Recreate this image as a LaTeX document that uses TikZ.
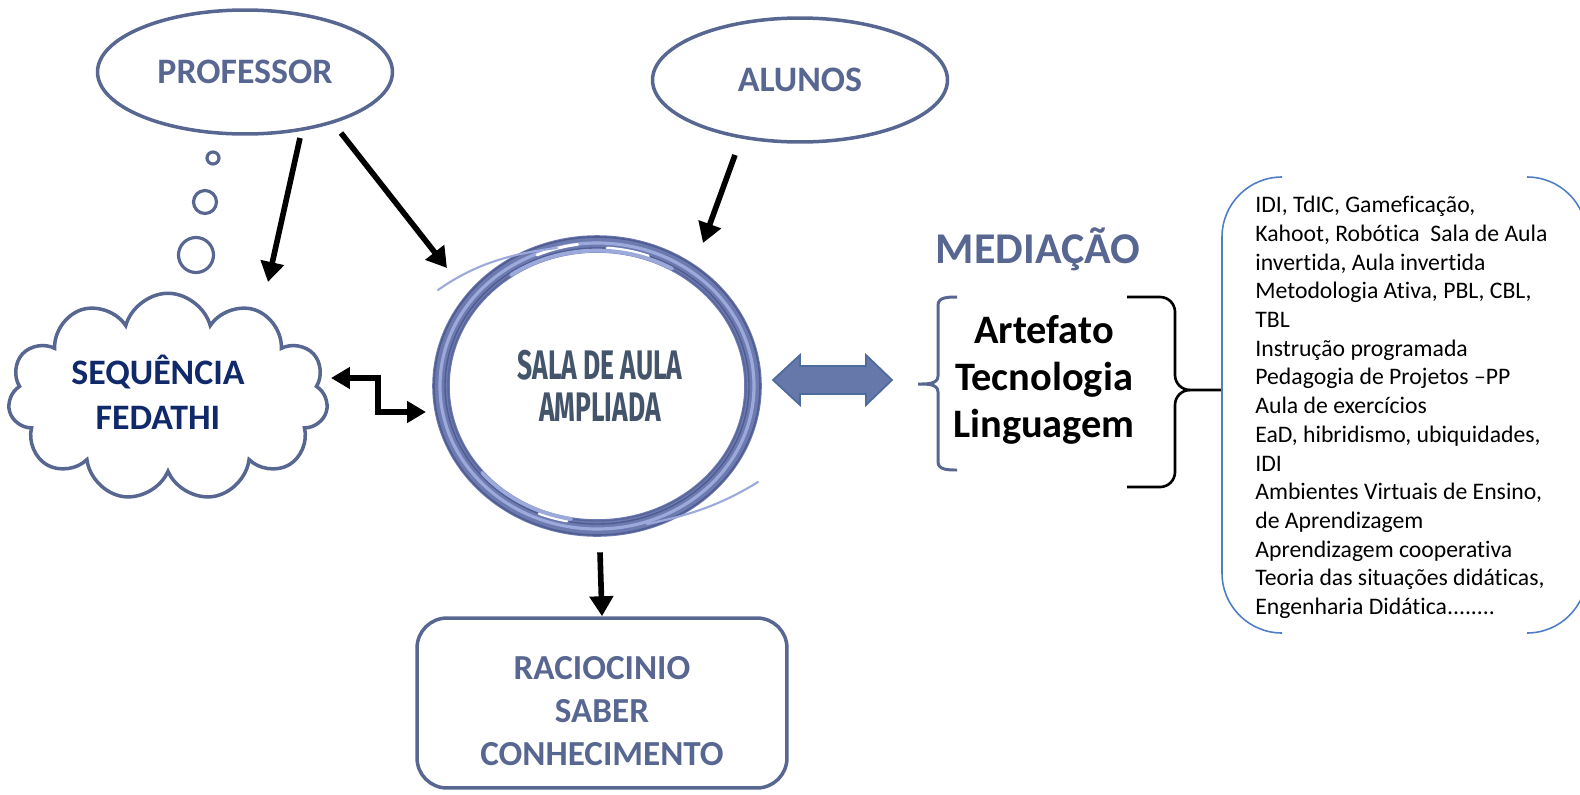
\documentclass[tikz,border=0pt]{standalone}
\usepackage{fontspec}
\setmainfont{Carlito}[Ligatures=NoCommon]
\newfontfamily\condfont[FakeStretch=0.64]{Fira Sans}
\usetikzlibrary{shapes.geometric,shapes.symbols,arrows.meta,calc}
\definecolor{slate}{HTML}{586791}
\definecolor{navy}{HTML}{10296A}
\definecolor{darkslate}{HTML}{44546A}
\definecolor{ring}{HTML}{6C7AB0}
\definecolor{ringlight}{HTML}{9CAADB}
\definecolor{ringdark}{HTML}{4E5C92}
\definecolor{boxblue}{HTML}{4F7EC5}
\definecolor{dafill}{HTML}{6578A9}
\definecolor{daborder}{HTML}{4D6B9C}
\begin{document}
\begin{tikzpicture}[x=0.02cm,y=-0.02cm,
  ell/.style={ellipse, draw=slate, line width=2pt, inner sep=0, text=slate,
    font=\fontsize{20.4}{24}\selectfont\bfseries},
  bub/.style={circle, draw=slate, line width=1.8pt, inner sep=0},
  arr/.style={line width=3.2pt, -{Triangle[width=0.46cm,length=0.4cm]}},
  darr/.style={line width=3.2pt, {Triangle[width=0.42cm,length=0.38cm]}-{Triangle[width=0.42cm,length=0.38cm]}},
  swoosh/.style={draw=ringlight, line width=2.2pt, line cap=round},
  lbl/.style={inner sep=0, align=center}
]
\useasboundingbox (0,0) rectangle (1580,795);
\clip (0,0) rectangle (1580,795);

% top ellipses
\node[ell, minimum width=5.9cm, minimum height=2.48cm] (prof) at (245,72) {PROFESSOR};
\node[ell, minimum width=5.9cm, minimum height=2.48cm] (alu) at (800,80) {ALUNOS};

% thought bubbles
\node[bub, minimum size=0.24cm] (b1) at (213,158) {};
\node[bub, minimum size=0.46cm] (b2) at (205,202) {};
\node[bub, minimum size=0.70cm] (b3) at (196,255) {};

% cloud
\node[cloud, cloud puffs=11, aspect=1.56, draw=slate, line width=2pt, inner sep=0,
  minimum width=6.4cm, minimum height=4.15cm] (seq) at (168,397) {};
\node[lbl, text=navy, font=\fontsize{20.4}{25.5}\selectfont\bfseries] (seqt) at (158,392) {SEQUÊNCIA\\FEDATHI};

% central ring
\node[ellipse, minimum width=6.6cm, minimum height=6.04cm, inner sep=0] (sala) at (597,386) {};
\draw[ring, line width=10pt] (sala.center) ellipse[x radius=156, y radius=142];
\draw[ringdark, line width=0.9pt] (sala.center) ellipse[x radius=163, y radius=149];
\draw[ringlight, line width=1.8pt] (sala.center) ellipse[x radius=157, y radius=143];
\draw[ringdark, line width=0.8pt] (sala.center) ellipse[x radius=152, y radius=138];
\draw[ringdark!70!ring, line width=0.8pt] (sala.center) ellipse[x radius=149, y radius=135];
\draw[white, line width=1.6pt, line cap=round] ($(sala.center)+(-60,-131)$) arc[start angle=246, end angle=262, x radius=152, y radius=138];
\draw[white, line width=1.6pt, line cap=round] ($(sala.center)+(10,-138)$) arc[start angle=274, end angle=290, x radius=152, y radius=138];
\draw[white, line width=1.6pt, line cap=round] ($(sala.center)+(-30,135)$) arc[start angle=101, end angle=112, x radius=152, y radius=138];
\draw[swoosh] ($(sala.center)+(-86,-111)$) arc[start angle=235, end angle=300, x radius=150, y radius=135];
\draw[swoosh] ($(sala.center)+(-26,133)$) arc[start angle=100, end angle=140, x radius=150, y radius=135];
\draw[swoosh, line width=1.2pt] ($(sala.center)+(-159,-96)$) .. controls ($(sala.center)+(-125,-120)$) and ($(sala.center)+(-90,-132)$) .. ($(sala.center)+(-40,-138)$);
\draw[swoosh, line width=1.2pt] ($(sala.center)+(161,96)$) .. controls ($(sala.center)+(130,115)$) and ($(sala.center)+(100,128)$) .. ($(sala.center)+(50,138)$);
\node[lbl, text=darkslate, font=\condfont\fontsize{23.5}{23.8}\selectfont\bfseries] (salat) at (600,386) {SALA DE AULA\\AMPLIADA};

% result box
\node[draw=slate, line width=2pt, rounded corners=0.6cm, minimum width=7.4cm, minimum height=3.4cm,
  inner sep=0] (rac) at (602,703) {};
\node[lbl, text=slate, font=\fontsize{20}{24.4}\selectfont\bfseries] (ract) at (602,711)
  {RACIOCINIO\\SABER\\CONHECIMENTO};

% arrows
\coordinate (p1) at ($(prof.center)+(55,66)$);
\coordinate (p2) at ($(seq.center)+(100,-115)$);
\draw[arr] (p1) -- (p2);
\coordinate (p3) at ($(prof.center)+(96,61)$);
\coordinate (s1) at ($(sala.center)+(-150,-118)$);
\draw[arr] (p3) -- (s1);
\coordinate (a1) at ($(alu.center)+(-65,75)$);
\coordinate (s2) at ($(sala.center)+(106,-143)$);
\draw[arr] (a1) -- (s2);
\coordinate (s3) at ($(sala.south)+(3,15)$);
\draw[arr] (s3) -- (rac.north);
\coordinate (e1) at (331,378);
\coordinate (e2) at (426,412);
\coordinate (m) at (378,395);
\draw[darr] (e1) -| (m) |- (e2);

% double block arrow
\draw[fill=dafill, draw=daborder, line width=1pt] (773,380) -- (800,355) -- (800,366) -- (866,366) -- (866,355)
  -- (892,380) -- (866,405) -- (866,394) -- (800,394) -- (800,405) -- cycle;

% mediacao
\node[anchor=base, inner sep=0, text=slate, font=\fontsize{25}{30}\selectfont\bfseries] (med) at (1038,263) {MEDIAÇÃO};
\node[lbl, font=\fontsize{23}{26.6}\selectfont\bfseries] (atl) at (1044,380) {Artefato\\Tecnologia\\Linguagem};

% braces
\draw[slate, line width=1.7pt] (957,297) to[out=180,in=90] (938,305) -- (938,376) to[out=-90,in=0] (918,384)
  to[out=0,in=90] (938,392) -- (938,462) to[out=-90,in=180] (957,470);
\draw[black, line width=1.5pt] (1127,297) -- (1160,297) to[out=0,in=90] (1175,312) -- (1175,375)
  to[out=-90,in=180] (1190,390) -- (1222,390);
\draw[black, line width=1.5pt] (1190,390) to[out=180,in=90] (1175,405) -- (1175,472) to[out=-90,in=0] (1160,487) -- (1127,487);

% right list box
\draw[boxblue, line width=0.9pt, rounded corners=1.2cm] (1282,177) -- (1222,177) -- (1222,633) -- (1282,633);
\draw[boxblue, line width=0.9pt, rounded corners=1.2cm] (1527,177) -- (1587,177) -- (1587,633) -- (1527,633);
\node[anchor=north west, inner sep=0, align=left, font=\fontsize{13.5}{16.33}\selectfont] (list) at (1255,196)
 {IDI, TdIC, Gameficação,\\
  Kahoot, Robótica\ \ Sala de Aula\\
  invertida, Aula invertida\\
  Metodologia Ativa, PBL, CBL,\\
  TBL\\
  Instrução programada\\
  Pedagogia de Projetos –PP\\
  Aula de exercícios\\
  EaD, hibridismo, ubiquidades,\\
  IDI\\
  Ambientes Virtuais de Ensino,\\
  de Aprendizagem\\
  Aprendizagem cooperativa\\
  Teoria das situações didáticas,\\
  Engenharia Didática........};
\end{tikzpicture}
\end{document}
